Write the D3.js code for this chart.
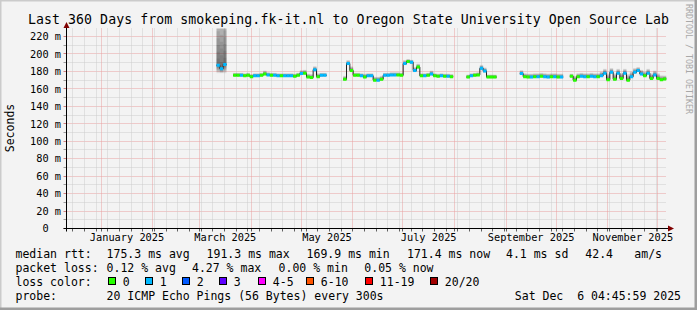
<!DOCTYPE html>
<html><head><meta charset="utf-8">
<script src="https://cdn.jsdelivr.net/npm/d3@7"></script>
<style>
html,body{margin:0;padding:0;background:#f3f3f3;}
svg{display:block;}
text{font-family:"DejaVu Sans Mono",monospace;fill:#000;}
</style>
</head><body>
<svg id="c" width="697" height="310"></svg>
<script>
// ---------------- data ----------------
const _ = null;
const titleText = "Last 360 Days from smokeping.fk-it.nl to Oregon State University Open Source Lab";
const yAxisTitle = "Seconds";
const watermark = "RRDTOOL / TOBI OETIKER";
const endTimeText = "Sat Dec  6 04:45:59 2025";
const spanDays = 360;
const stepDays = 2;
const yTickValues = [0, 20, 40, 60, 80, 100, 120, 140, 160, 180, 200, 220];
const xTickLabels = ["January 2025", "March 2025", "May 2025", "July 2025", "September 2025", "November 2025"];

// median rtt (ms), one value per 2-day step, null = no data
const medianMs = [
  _,_,_,_,_,_,_,_,_,_,
  _,_,_,_,_,_,_,_,_,_,
  _,_,_,_,_,_,_,_,_,_,
  _,_,_,_,_,_,_,_,_,_,
  _,_,_,_,_,187,183,188,_,_,
  175.5,175.5,175.5,175,175.5,174,175,175,175.5,177,
  176,175.5,175.5,175,175,175,175,175,174.5,175.5,
  177.5,178,173.5,173,182,174,175.5,175.5,_,_,
  _,_,_,171,189,181,175.5,175.5,175,173.5,
  175,175,170,170,171,175.5,175.5,176,176,176,
  175.5,189,191.3,190.5,181,185,175,175,175.5,177,
  175,174.5,175,174.5,174.5,174,_,_,_,_,
  173.5,175,175.5,176,183.5,180.5,173.5,173.5,173.5,_,
  _,_,_,_,_,_,177.5,174,173.5,173.5,
  174,174,174.5,174,173.5,174,174,173.5,173.5,_,
  _,174.5,170,174,174.5,174,174,174.5,174,174,
  175,178,170.5,179,171,178,172,178,170,174,
  179,181,177,175,178,172,176,172,170.5,171.4
];
// smoke spread above median (ms)
const smokeUp = [
  _,_,_,_,_,_,_,_,_,_,
  _,_,_,_,_,_,_,_,_,_,
  _,_,_,_,_,_,_,_,_,_,
  _,_,_,_,_,_,_,_,_,_,
  _,_,_,_,_,70,70,70,_,_,
  3,3,3,3,3,3,3,3,3,4,
  3,3,3,3,3,3,3,3,3,3,
  4,4,4,4,4,4,3,3,_,_,
  _,_,_,4,4,5,3,3,3,4,
  3,3,4,4,4,3,3,3,3,3,
  3,4,3,3,4,4,3,3,3,4,
  3,3,3,3,3,3,_,_,_,_,
  3,3,3,3,4,4,3,3,3,_,
  _,_,_,_,_,_,4,4,4,4,
  4,4,4,4,4,4,4,4,4,_,
  _,3,5,4,4,4,4,4,4,4,
  5,5,7,5,7,5,6,5,7,6,
  5,4,5,5,5,6,5,6,5,4
];
// smoke spread below median (ms)
const smokeDown = [
  _,_,_,_,_,_,_,_,_,_,
  _,_,_,_,_,_,_,_,_,_,
  _,_,_,_,_,_,_,_,_,_,
  _,_,_,_,_,_,_,_,_,_,
  _,_,_,_,_,9,5,10,_,_,
  1.5,1.5,1.5,1.5,1.5,1.5,1.5,1.5,1.5,1.5,
  1.5,1.5,1.5,1.5,1.5,1.5,1.5,1.5,1.5,1.5,
  1.5,1.5,1.5,1.5,2,1.5,1.5,1.5,_,_,
  _,_,_,1.5,2,2,1.5,1.5,1.5,1.5,
  1.5,1.5,1.5,1.5,1.5,1.5,1.5,1.5,1.5,1.5,
  1.5,2,2,2,2,2,1.5,1.5,1.5,1.5,
  1.5,1.5,1.5,1.5,1.5,1.5,_,_,_,_,
  1.5,1.5,1.5,1.5,2,2,1.5,1.5,1.5,_,
  _,_,_,_,_,_,1.5,1.5,1.5,1.5,
  1.5,1.5,1.5,1.5,1.5,1.5,1.5,1.5,1.5,_,
  _,1.5,1.5,1.5,1.5,1.5,1.5,1.5,1.5,1.5,
  1.5,1.5,1.5,1.5,1.5,1.5,1.5,1.5,1.5,1.5,
  1.5,1.5,1.5,1.5,1.5,1.5,1.5,1.5,1.5,1.5
];
// lost pings (of 20) per step
const lossPings = [
  _,_,_,_,_,_,_,_,_,_,
  _,_,_,_,_,_,_,_,_,_,
  _,_,_,_,_,_,_,_,_,_,
  _,_,_,_,_,_,_,_,_,_,
  _,_,_,_,_,1,1,1,_,_,
  0,0,1,0,0,0,1,1,0,0,
  1,0,1,1,0,1,1,1,0,0,
  1,0,0,0,1,0,1,1,_,_,
  _,_,_,0,1,0,0,0,1,0,
  1,1,0,1,0,1,1,1,1,0,
  0,1,0,1,1,0,0,1,0,1,
  0,0,1,0,1,0,_,_,_,_,
  0,1,0,0,1,1,0,0,0,_,
  _,_,_,_,_,_,1,0,0,1,
  0,1,0,1,1,0,1,0,1,_,
  _,0,0,0,1,1,0,1,1,0,
  1,1,0,1,0,1,0,1,0,1,
  1,1,1,0,1,0,1,0,0,0
];

const lossClasses = ["0", "1", "2", "3", "4-5", "6-10", "11-19", "20/20"];
const lossClassMax = [0, 1, 2, 3, 5, 10, 19, 20];
const lossColors = ["#26ff00", "#00b8ff", "#0059ff", "#5e00ff", "#ff00ff", "#ff5500", "#ff0000", "#a10000"];

const rttLabel = "median rtt:";
const rttStats = ["175.3 ms avg", "191.3 ms max", "169.9 ms min", "171.4 ms now", "4.1 ms sd", "42.4", "am/s"];
const lossLabel = "packet loss:";
const lossStats = ["0.12 % avg", "4.27 % max", "0.00 % min", "0.05 % now"];
const lossColorLabel = "loss color:";
const probeLabel = "probe:";
const probeText = "20 ICMP Echo Pings (56 Bytes) every 300s";

// ---------------- layout ----------------
const W = 697, H = 310;
const X0 = 66.5, X1 = 666.5, Y0 = 228.5, Y1 = 28.5;
const rttStatX = [106.6, 206.6, 306.6, 407, 506, 585.3, 634.3];
const lossStatX = [106.6, 192, 278.6, 364.3];
const lossBoxX = [108.5, 145.5, 182.5, 219.5, 258.5, 306.5, 365.5, 430.5];
const legendRowY = [257.5, 271.5, 285.5, 299.5];

const svg = d3.select("#c");
const endTime = new Date(Date.UTC(2025, 11, 6, 4, 45, 59));
const startTime = new Date(+endTime - spanDays * 864e5);
const x = d3.scaleTime().domain([startTime, endTime]).range([X0, X1]);
const y = d3.scaleLinear().domain([0, 229.17]).range([Y0, Y1]);
const tAt = i => new Date(+startTime + i * stepDays * 864e5);
const snap = v => Math.floor(v) + 0.5;

// background + frame
svg.append("rect").attr("width", W).attr("height", H).attr("fill", "#f3f3f3");
svg.append("path").attr("d", `M0,${H} V0 H${W}`).attr("stroke", "#cbcbcb").attr("stroke-width", 3).attr("fill", "none");
svg.append("path").attr("d", `M0,${H-1} H${W-1} V0`).attr("stroke", "#9e9e9e").attr("stroke-width", 3).attr("fill", "none");

// clip
svg.append("clipPath").attr("id", "plot").append("rect")
  .attr("x", X0).attr("y", Y1).attr("width", X1 - X0).attr("height", Y0 - Y1);

const grid = svg.append("g");
const minorColor = "#cdcdcd", majorColor = "#e9a1a1";

// horizontal grid
const yMinor = d3.range(10, 230, 20);
grid.selectAll(".hmin").data(yMinor).join("line")
  .attr("x1", X0 - 2).attr("x2", X1).attr("y1", d => snap(y(d))).attr("y2", d => snap(y(d)))
  .attr("stroke", minorColor).attr("stroke-dasharray", "1,1");
grid.selectAll(".hmaj").data(yTickValues.filter(v => v > 0)).join("line")
  .attr("x1", X0).attr("x2", X1).attr("y1", d => snap(y(d))).attr("y2", d => snap(y(d)))
  .attr("stroke", majorColor).attr("stroke-dasharray", "1,1");
// y ticks
grid.selectAll(".ytick").data(d3.range(0, 230, 10)).join("line")
  .attr("x1", X0 - 3).attr("x2", X0).attr("y1", d => snap(y(d))).attr("y2", d => snap(y(d)))
  .attr("stroke", d => d % 20 === 0 ? "#d08080" : "#9a9a9a");

// vertical grid
const months = d3.utcMonth.range(startTime, endTime);
const monthKeys = new Set(months.map(d => +d));
const sundays = d3.utcSunday.range(startTime, endTime).filter(d => !monthKeys.has(+d));
grid.selectAll(".vmin").data(sundays).join("line")
  .attr("x1", d => snap(x(d))).attr("x2", d => snap(x(d))).attr("y1", Y1).attr("y2", Y0 + 2)
  .attr("stroke", minorColor).attr("stroke-dasharray", "1,1");
grid.selectAll(".vmaj").data(months).join("line")
  .attr("x1", d => snap(x(d))).attr("x2", d => snap(x(d))).attr("y1", Y1).attr("y2", Y0)
  .attr("stroke", majorColor).attr("stroke-dasharray", "1,1");
grid.selectAll(".xtick").data(sundays.concat(months)).join("line")
  .attr("x1", d => snap(x(d))).attr("x2", d => snap(x(d))).attr("y1", Y0).attr("y2", Y0 + 3)
  .attr("stroke", "#606060");

// ---------------- series ----------------
const stepPts = [];
medianMs.forEach((v, i) => {
  if (v == null) { if (stepPts.length && stepPts[stepPts.length - 1] != null) stepPts.push(null); return; }
  stepPts.push({ t: tAt(i), i }, { t: tAt(i + 1), i });
});
const plot = svg.append("g").attr("clip-path", "url(#plot)");
const layers = 9;
for (let k = layers; k >= 1; k--) {
  const area = d3.area().defined(d => d != null)
    .x(d => x(d.t))
    .y0(d => y(medianMs[d.i] - smokeDown[d.i] * k / layers))
    .y1(d => y(medianMs[d.i] + smokeUp[d.i] * k / layers));
  plot.append("path").datum(stepPts).attr("d", area).attr("fill", "#000").attr("fill-opacity", 0.075);
}
const medLine = d3.line().defined(d => d != null).x(d => x(d.t)).y(d => y(medianMs[d.i]));
plot.append("path").datum(stepPts).attr("d", medLine).attr("fill", "none").attr("stroke", "#202020").attr("stroke-width", 1);

const classOf = n => lossClassMax.findIndex(m => n <= m);
const pts = medianMs.map((v, i) => ({ v, i })).filter(d => d.v != null);
plot.selectAll(".seg").data(pts).join("line")
  .attr("x1", d => x(tAt(d.i))).attr("x2", d => x(tAt(d.i + 1)))
  .attr("y1", d => y(d.v)).attr("y2", d => y(d.v))
  .attr("stroke", d => lossColors[classOf(lossPings[d.i])]).attr("stroke-width", 3);

// ---------------- axes ----------------
svg.append("line").attr("x1", X0 - 3).attr("x2", X1 + 2).attr("y1", Y0).attr("y2", Y0).attr("stroke", "#000");
svg.append("line").attr("x1", X0).attr("x2", X0).attr("y1", Y0 + 3).attr("y2", Y1 - 1).attr("stroke", "#000");
svg.append("path").attr("d", `M${X0 - 3},${Y1 - 0.5} L${X0 + 3},${Y1 - 0.5} L${X0},${Y1 - 6.5} Z`).attr("fill", "#800000");
svg.append("path").attr("d", `M${X1 + 1.5},${Y0 - 3} L${X1 + 1.5},${Y0 + 3} L${X1 + 7.5},${Y0} Z`).attr("fill", "#800000");

svg.selectAll(".ylab").data(yTickValues).join("text")
  .attr("x", 61).attr("y", d => y(d) + 3.8).attr("text-anchor", "end")
  .style("font-size", "10.3px")
  .text(d => d === 0 ? "0\u00a0\u00a0" : d + " m");

const parseMonth = d3.utcParse("%B %Y");
svg.selectAll(".xlab").data(xTickLabels).join("text")
  .attr("x", d => { const m = parseMonth(d); return x(new Date((+m + +d3.utcMonth.offset(m, 1)) / 2)); })
  .attr("y", 241).attr("text-anchor", "middle").style("font-size", "10.3px")
  .text(d => d);

svg.append("text").attr("x", 348.5).attr("y", 23.5).attr("text-anchor", "middle")
  .attr("textLength", 641).attr("lengthAdjust", "spacing")
  .style("font-size", "13.2px").text(titleText);
svg.append("text").attr("transform", "translate(14,128) rotate(-90)").attr("text-anchor", "middle")
  .style("font-size", "11.5px").text(yAxisTitle);
svg.append("text").attr("transform", "translate(686,4) rotate(90)")
  .style("font-size", "8.3px").style("fill", "#a8a8a8").text(watermark);

// ---------------- legend ----------------
const lg = svg.append("g").style("font-size", "11.5px");
const addT = (tx, ty, s, anchor) => lg.append("text").attr("x", tx).attr("y", ty)
  .attr("text-anchor", anchor || "start").attr("xml:space", "preserve").text(s);
addT(15.5, legendRowY[0], rttLabel);
rttStats.forEach((s, j) => addT(rttStatX[j], legendRowY[0], s));
addT(15.5, legendRowY[1], lossLabel);
lossStats.forEach((s, j) => addT(lossStatX[j], legendRowY[1], s));
addT(15.5, legendRowY[2], lossColorLabel);
lossClasses.forEach((s, j) => {
  lg.append("rect").attr("x", lossBoxX[j]).attr("y", legendRowY[2] - 8).attr("width", 7).attr("height", 7)
    .attr("fill", lossColors[j]).attr("stroke", "#000");
  addT(lossBoxX[j] + 14.3, legendRowY[2], s);
});
addT(15.5, legendRowY[3], probeLabel);
addT(106.6, legendRowY[3], probeText);
addT(681, legendRowY[3], endTimeText, "end");
</script>
</body></html>
